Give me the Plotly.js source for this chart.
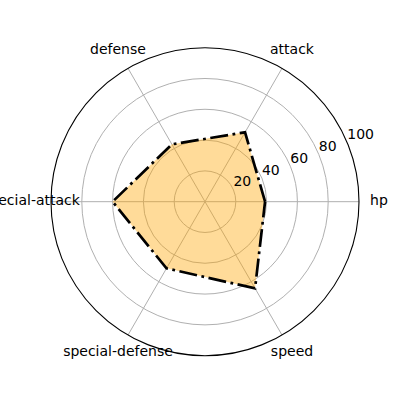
<!DOCTYPE html>
<html>
<head>
<meta charset="utf-8">
<script src="https://cdn.plot.ly/plotly-3.0.1.min.js"></script>
<style>html,body{margin:0;padding:0;background:#fff;}#chart{width:400px;height:400px;}</style>
</head>
<body>
<div id="chart"></div>
<script>
const categories = ["hp", "attack", "defense", "special-attack", "special-defense", "speed"];
const values = [39, 52, 43, 60, 50, 65];
const radialTicks = [20, 40, 60, 80, 100];

const rClosed = values.concat([values[0]]);
const thetaClosed = categories.concat([categories[0]]);
const FONT = {family: "DejaVu Sans", size: 14, color: "black"};

const trace = {
  type: "scatterpolar",
  subplot: "polar",
  r: rClosed,
  theta: thetaClosed,
  mode: "lines",
  fill: "toself",
  fillcolor: "rgba(255,165,0,0.4)",
  line: {color: "black", width: 2.7, dash: "18px,4.5px,2.8px,4.5px"},
  hoverinfo: "skip"
};

// radial tick labels placed at 22.5 degrees, like the reference
const tickLabelTrace = {
  type: "scatterpolar",
  subplot: "polar2",
  r: radialTicks,
  theta: radialTicks.map(() => 22.5),
  mode: "text",
  text: radialTicks.map(String),
  textposition: "top right",
  textfont: FONT,
  cliponaxis: false,
  hoverinfo: "skip"
};

// category labels on an outer ring
const catLabelTrace = {
  type: "scatterpolar",
  subplot: "polar3",
  r: categories.map(() => 100),
  theta: categories,
  mode: "text",
  text: categories,
  textposition: "middle center",
  textfont: FONT,
  cliponaxis: false,
  hoverinfo: "skip"
};

const hiddenRadial = {range: [0, 100], visible: false, showgrid: false, showline: false, showticklabels: false, ticks: ""};

const layout = {
  width: 400, height: 400,
  margin: {l: 0, r: 0, t: 0, b: 0},
  paper_bgcolor: "white",
  showlegend: false,
  font: FONT,
  polar: {
    domain: {x: [0.1275, 0.8975], y: [0.1108, 0.8808]},
    bgcolor: "white",
    angularaxis: {
      type: "category",
      categoryarray: categories,
      rotation: 0,
      direction: "counterclockwise",
      showline: true, linecolor: "black", linewidth: 1.1,
      showgrid: true, gridcolor: "#b0b0b0", gridwidth: 1,
      ticks: "",
      showticklabels: false
    },
    radialaxis: {
      range: [0, 100],
      tickvals: radialTicks,
      angle: 22.5,
      showline: false,
      ticks: "",
      showticklabels: false,
      showgrid: true, gridcolor: "#b0b0b0", gridwidth: 1
    }
  },
  polar2: {
    domain: {x: [0.1275, 0.8975], y: [0.1108, 0.8808]},
    bgcolor: "rgba(0,0,0,0)",
    angularaxis: {type: "linear", thetaunit: "degrees", rotation: 0, direction: "counterclockwise",
                  visible: false, showgrid: false, showline: false, showticklabels: false, ticks: ""},
    radialaxis: hiddenRadial
  },
  polar3: {
    domain: {x: [0.0775, 0.9475], y: [0.0608, 0.9308]},
    bgcolor: "rgba(0,0,0,0)",
    angularaxis: {type: "category", categoryarray: categories, rotation: 0, direction: "counterclockwise",
                  visible: false, showgrid: false, showline: false, showticklabels: false, ticks: ""},
    radialaxis: hiddenRadial
  }
};

Plotly.newPlot("chart", [trace, tickLabelTrace, catLabelTrace], layout, {displayModeBar: false, staticPlot: true});
</script>
</body>
</html>
